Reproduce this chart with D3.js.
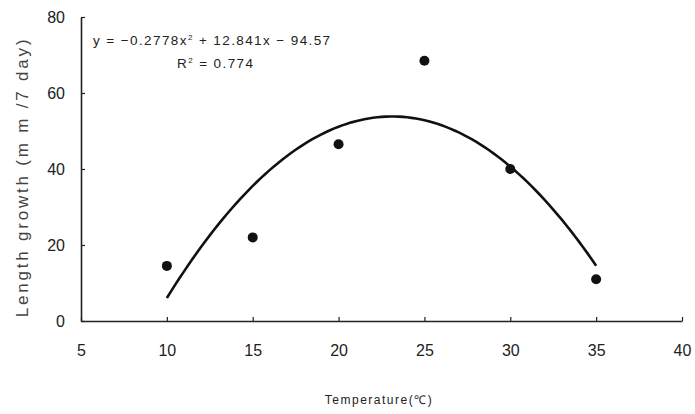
<!DOCTYPE html>
<html>
<head>
<meta charset="utf-8">
<script src="https://cdn.jsdelivr.net/npm/d3@7"></script>
<style>
  body { margin: 0; background: #fff; }
</style>
</head>
<body>
<div id="chart"></div>
<script>
// observed points
const temps = [10, 15, 20, 25, 30, 35];
const growth = [14.5, 22, 46.5, 68.5, 40, 11];
// polynomial trendline as printed on the chart: a*x^2 + b*x + c
const trendCoef = [-0.2778, 12.841, -94.57];
const xTicks = [5, 10, 15, 20, 25, 30, 35, 40];
const yTicks = [0, 20, 40, 60, 80];

const width = 695, height = 414;
const margin = { top: 17, right: 13, bottom: 93, left: 81 };

const svg = d3.select('#chart').append('svg')
    .attr('width', width)
    .attr('height', height);

const x = d3.scaleLinear().domain([5, 40]).range([margin.left, width - margin.right]);
const y = d3.scaleLinear().domain([0, 80]).range([height - margin.bottom, margin.top]);

const tickFont = 'Liberation Sans, Arial, sans-serif';

// x axis (ticks point inward)
const xAxis = svg.append('g')
    .attr('transform', `translate(0,${y(0)})`)
    .call(d3.axisBottom(x).tickValues(xTicks).tickSize(-4).tickPadding(24).tickSizeOuter(0));
xAxis.select('.domain').attr('stroke', '#222').attr('stroke-width', 1.6);
xAxis.selectAll('line').attr('stroke', '#222').attr('stroke-width', 1.2);
xAxis.selectAll('text')
    .attr('font-family', tickFont)
    .attr('font-size', '16px')
    .attr('fill', '#222');

// y axis
const yAxis = svg.append('g')
    .attr('transform', `translate(${x(5)},0)`)
    .call(d3.axisLeft(y).tickValues(yTicks).tickSize(-4).tickPadding(16).tickSizeOuter(0));
yAxis.select('.domain').attr('stroke', '#222').attr('stroke-width', 1.6);
yAxis.selectAll('line').attr('stroke', '#222').attr('stroke-width', 1.2);
yAxis.selectAll('text')
    .attr('font-family', tickFont)
    .attr('font-size', '16px')
    .attr('fill', '#222');

// trendline
const trend = d3.range(10, 35.01, 0.25).map(t => ({
    t: t,
    v: trendCoef[0] * t * t + trendCoef[1] * t + trendCoef[2]
}));
svg.append('path')
    .datum(trend)
    .attr('fill', 'none')
    .attr('stroke', '#111')
    .attr('stroke-width', 2.6)
    .attr('d', d3.line().x(d => x(d.t)).y(d => y(d.v)));

// points
svg.selectAll('.pt')
    .data(temps)
    .enter().append('circle')
    .attr('class', 'pt')
    .attr('cx', d => x(d))
    .attr('cy', (d, i) => y(growth[i]))
    .attr('r', 5)
    .attr('fill', '#111');

// equation
const eq = svg.append('text')
    .attr('x', 93)
    .attr('y', 45)
    .attr('font-family', tickFont)
    .attr('font-size', '13.5px')
    .attr('letter-spacing', '1.4px')
    .attr('fill', '#222');
eq.append('tspan').text('y = \u22120.2778x');
eq.append('tspan').attr('font-size', '8px').attr('dy', -5).text('2');
eq.append('tspan').attr('dy', 5).text(' + 12.841x \u2212 94.57');

const r2 = svg.append('text')
    .attr('x', 177)
    .attr('y', 68)
    .attr('font-family', tickFont)
    .attr('font-size', '13.5px')
    .attr('letter-spacing', '1.4px')
    .attr('fill', '#222');
r2.append('tspan').text('R');
r2.append('tspan').attr('font-size', '8px').attr('dy', -5).text('2');
r2.append('tspan').attr('dy', 5).text(' = 0.774');

// axis titles
svg.append('text')
    .attr('transform', `translate(28,177) rotate(-90)`)
    .attr('text-anchor', 'middle')
    .attr('font-family', tickFont)
    .attr('font-size', '17px')
    .attr('letter-spacing', '2.8px')
    .attr('fill', '#444')
    .text('Length growth (m m /7 day)');

svg.append('text')
    .attr('x', 379)
    .attr('y', 404)
    .attr('text-anchor', 'middle')
    .attr('font-family', tickFont)
    .attr('font-size', '12px')
    .attr('letter-spacing', '1.5px')
    .attr('fill', '#222')
    .text('Temperature(\u2103)');
</script>
</body>
</html>
